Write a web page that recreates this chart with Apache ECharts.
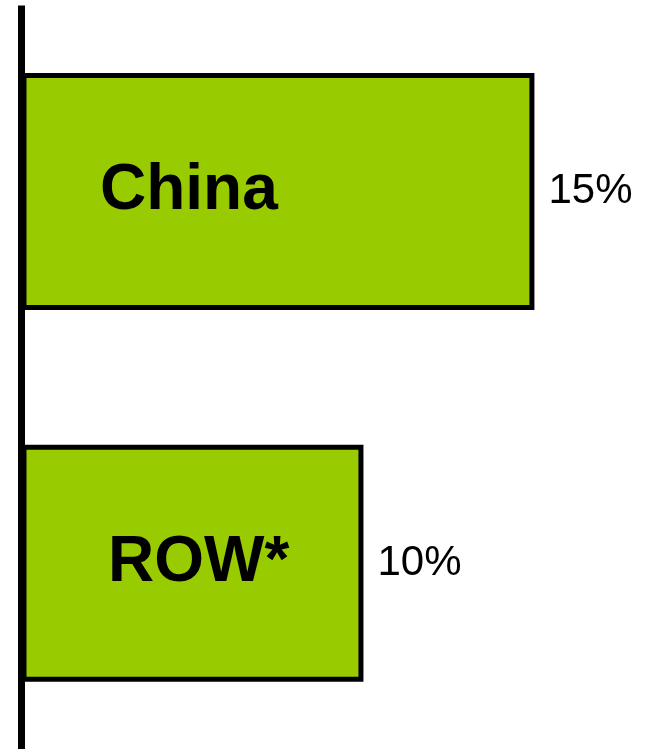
<!DOCTYPE html>
<html>
<head>
<meta charset="utf-8">
<script src="https://cdn.jsdelivr.net/npm/echarts@6/dist/echarts.min.js"></script>
<style>
  html, body { margin: 0; padding: 0; background: #ffffff; }
  #chart { width: 650px; height: 749px; }
</style>
</head>
<body>
<div id="chart"></div>
<script>
// Share by region, in percent
const regions = ['China', 'ROW*'];
const shares = [15, 10];

const chart = echarts.init(document.getElementById('chart'), null, { renderer: 'canvas' });

chart.setOption({
  animation: false,
  backgroundColor: '#ffffff',
  grid: { left: 21.5, right: 13, top: 5.5, height: 745, containLabel: false },
  xAxis: {
    type: 'value',
    min: 0,
    max: 18,
    show: false
  },
  yAxis: {
    type: 'category',
    data: regions,
    inverse: true,
    z: 10,
    axisLine: { show: true, lineStyle: { color: '#000000', width: 7, cap: 'butt' } },
    axisTick: { show: false },
    splitLine: { show: false },
    axisLabel: {
      inside: true,
      margin: 78.5,
      formatter: function (name, i) {
        return (i === 0 ? '{a|' : '{b|') + name + '}';
      },
      rich: {
        a: { fontFamily: 'Liberation Sans, Arial, sans-serif', fontSize: 64, fontWeight: 'bold', color: '#000000' },
        b: { fontFamily: 'Liberation Sans, Arial, sans-serif', fontSize: 64, fontWeight: 'bold', color: '#000000', padding: [0, 0, 0, 8] }
      }
    }
  },
  series: [{
    type: 'bar',
    data: shares,
    barWidth: 237,
    itemStyle: { color: '#99cc00', borderColor: '#000000', borderWidth: 5 },
    label: {
      show: true,
      position: 'right',
      distance: 14,
      formatter: function (p) { return p.value + '%'; },
      fontFamily: 'Liberation Sans, Arial, sans-serif',
      fontSize: 42,
      color: '#000000'
    }
  }]
});
</script>
</body>
</html>
